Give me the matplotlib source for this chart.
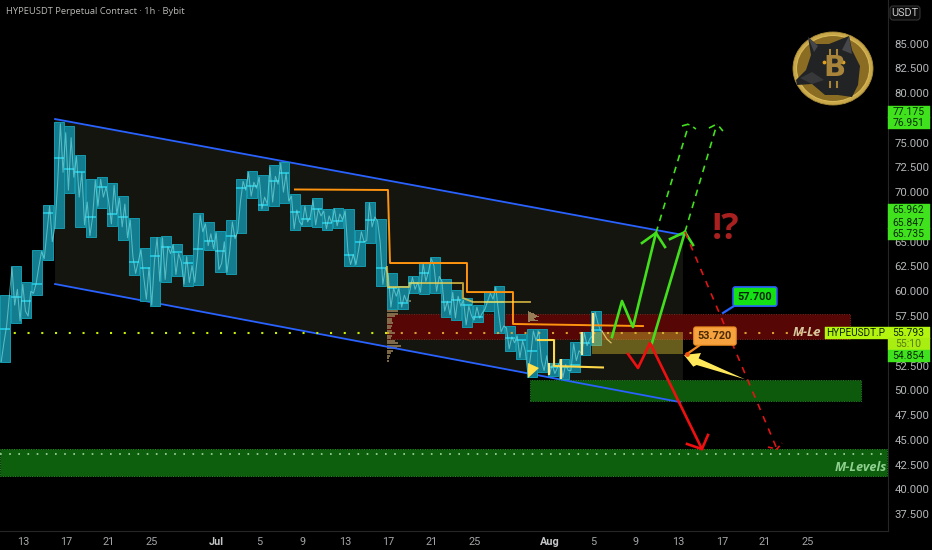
import matplotlib
matplotlib.use("Agg")
import matplotlib.pyplot as plt
from matplotlib.patches import Rectangle, Polygon, Ellipse, FancyBboxPatch
from matplotlib.transforms import blended_transform_factory
import numpy as np

plt.rcParams['font.family'] = ['Roboto', 'DejaVu Sans']

TITLE = "HYPEUSDT Perpetual Contract · 1h · Bybit"

# daily range blocks (June 12 onward)
block_high = [59.62,62.52,60.90,64.13,68.70,77.05,76.68,73.78,71.36,71.50,70.89,69.58,67.36,64.33,65.51,65.58,64.80,63.63,67.86,66.99,66.08,67.19,71.29,72.14,71.70,72.71,73.04,69.78,68.74,69.38,68.27,68.44,68.27,66.18,69.04,67.26,
              61.81,60.53,61.54,62.98,63.49,61.20,60.13,59.28,58.58,59.96,60.53,56.49,55.69,56.22,56.22,52.73,53.13,54.88,55.92,58.04]
block_low = [52.83,56.80,57.27,59.62,63.12,66.35,69.92,66.52,65.51,68.40,66.59,65.21,61.64,59.05,58.48,60.97,61.54,60.56,60.67,64.13,61.94,61.71,65.88,69.38,68.17,68.64,68.91,66.15,66.55,66.52,66.15,66.42,62.52,62.52,64.90,60.50,
             58.17,58.17,59.79,59.72,59.86,57.37,57.10,56.43,56.90,58.04,55.75,54.00,53.13,51.38,51.85,51.45,51.11,51.88,53.57,54.61]
block_mark = [56.23,59.45,59.02,60.70,67.86,73.41,72.37,72.07,67.46,70.55,67.83,67.46,62.92,62.38,63.56,64.43,63.96,62.89,64.30,65.11,64.06,65.58,70.45,70.62,68.70,71.16,71.97,68.03,67.26,68.27,66.92,67.12,63.63,65.00,67.19,62.38,
              60.29,58.78,60.80,61.87,62.82,58.95,59.12,58.61,57.43,58.95,58.95,55.25,55.08,54.00,55.08,52.39,52.39,52.56,54.74,56.09]
first_block_day = -20.15

# hourly line, four readings per block
hourly_line = [52.9,54.8,56.5,59.5, 62.4,58.6,60.2,57.0, 60.7,58.0,57.5,60.0, 59.8,60.8,62.5,64.0,
 63.3,66.0,68.6,65.0, 66.5,71.0,76.9,72.0, 76.0,70.2,75.5,71.5, 73.6,69.5,72.0,66.7,
 69.0,65.6,67.5,71.2, 68.6,71.3,69.5,70.5, 69.0,66.8,70.7,67.8, 69.4,66.5,68.8,65.4,
 67.2,63.5,61.8,63.0, 64.2,61.5,59.2,62.4, 58.6,63.0,65.4,61.0, 65.4,61.2,64.5,63.8,
 64.7,61.7,63.8,63.0, 60.7,63.5,60.9,62.6, 60.9,63.5,67.7,66.0, 66.8,64.6,65.8,64.3,
 65.9,62.2,62.8,65.0, 61.9,64.0,67.0,65.3, 66.0,69.0,71.1,70.2, 72.0,69.6,71.0,70.4,
 71.5,68.3,69.5,68.8, 72.5,69.0,71.6,70.8, 72.9,70.0,71.9,69.1, 69.6,66.3,68.2,67.0,
 66.7,68.6,67.0,67.5, 69.2,66.7,68.3,67.6, 68.1,66.3,67.6,66.9, 68.3,66.6,67.8,67.2,
 68.1,64.0,62.7,63.7, 62.7,64.2,66.0,65.0, 65.1,68.9,66.5,67.5, 67.1,65.0,60.7,62.4,
 61.6,58.4,60.3,59.5, 60.3,58.4,59.6,58.9, 60.0,61.4,60.2,60.9, 59.9,62.8,61.0,62.0,
 63.3,62.6,60.0,61.5, 61.0,58.0,59.0,57.6, 59.9,57.3,59.5,58.5, 59.1,56.6,58.5,57.5,
 57.1,58.4,57.3,57.8, 58.2,59.0,59.8,59.2, 60.4,58.0,55.9,56.5, 56.3,54.2,55.4,54.8,
 55.5,53.3,55.0,54.0, 51.6,53.5,56.0,55.0, 56.0,53.0,52.0,53.5, 51.6,52.6,51.7,52.3,
 53.0,51.3,52.6,52.0, 52.0,54.7,53.0,54.0, 53.7,55.8,54.5,55.2, 55.5,57.9,56.8,56.0]
tail_days = [35.85,36.3,36.7]
tail_prices = [56.0,55.2,54.8]

# channel
channel_top_d = [-15.02,43.39]; channel_top_p = [77.38,65.68]
channel_low_d = [-15.02,43.12]; channel_low_p = [60.73,48.82]
channel_fill_d = [-15.02,43.39,43.39,-15.02]; channel_fill_p = [77.38,65.68,48.70,60.73]

# zones: day start, day end, price low, price high
red_zone = (15.86,58.93,55.18,57.70)
green_zone = (29.16,59.95,48.92,51.04)
low_zone = (-20.14,62.42,41.36,44.08)
yellow_zone = (34.93,43.39,53.67,55.89)
current_price = 55.793
low_level = 43.58

orange_d = [7.30,15.95,16.14,23.30,23.30,27.58,27.58,39.67]
orange_p = [70.27,70.22,62.85,62.85,59.92,59.92,56.70,56.49]
yellow1_d = [15.86,15.95,17.91,18.00,22.93,22.93,23.86,29.16]
yellow1_p = [62.45,60.43,60.43,60.83,60.83,59.32,58.92,58.92]
yellow2_d = [29.91,31.40,31.40,35.95]
yellow2_p = [55.08,55.08,52.46,52.31]
# pale marker bars on the left of recent blocks
mark_d = [30.93,32.05,34.00,35.02]
mark_low = [51.55,51.15,53.57,54.78]
mark_high = [52.76,53.16,55.89,57.80]

green1_d = [36.79,37.72,38.74,40.88]; green1_p = [55.38,59.02,56.39,65.88]
green1h_d = [39.58,40.88,41.72]; green1h_p = [64.87,65.88,64.47]
green2_d = [40.51,43.58]; green2_p = [54.78,65.98]
green2h_d = [42.19,43.58,44.33]; green2h_p = [65.27,65.98,64.67]
dash1_d = [40.88,43.95]; dash1_p = [65.88,76.88]
dash1h_d = [43.30,43.95,44.60]; dash1h_p = [76.68,76.88,76.37]
dash2_d = [43.58,46.56]; dash2_p = [65.98,76.88]
dash2h_d = [45.81,46.56,47.11]; dash2h_p = [76.47,76.88,76.17]
red_d = [38.28,39.21,40.33,45.16]; red_p = [53.67,52.26,54.78,44.08]
redh_d = [43.77,45.16,45.72]; redh_p = [44.59,44.08,45.50]
reddash_d = [43.58,52.14]; reddash_p = [65.98,44.08]
reddashh_d = [51.30,52.14,52.60]; reddashh_p = [44.28,44.08,44.69]
yarrow_d = [43.49,45.07,44.85,49.16,44.67,44.35]
yarrow_p = [53.57,53.77,53.23,51.12,52.56,52.39]
ytri_d = [28.98,30.00,28.98]; ytri_p = [52.76,52.26,51.25]

vp_prices = [61.0,60.75,60.5,60.25,60.0,59.75,59.5,59.25,59.0,58.75,58.5,58.25,58.0,57.75,57.5,57.25,57.0,56.75,56.5,56.25,56.0,55.75,55.5,55.25,55.0,54.75,54.5,54.25,54.0,53.75,53.5,53.25,53.0]
vp_sizes = [.1,.3,.8,1.0,.9,1.2,1.5,2.0,2.2,1.6,2.0,1.4,1.0,1.0,.7,.5,.5,.6,.5,.4,.5,.7,.5,.4,.7,1.0,1.3,.9,.6,.4,.3,.2,.2]
vp2_prices = [58.0,57.9,57.8,57.7,57.6,57.5,57.4,57.3,57.2,57.1,57.0,56.9]
vp2_sizes = [.1,.3,.5,.6,.8,1.0,.7,.5,.6,.9,.4,.2]

y_ticks = [37.5,40,42.5,45,47.5,50,52.5,57.5,60,62.5,65,67.5,70,72.5,75,80,82.5,85]
x_tick_days = [-18,-14,-10,-6,0,4,8,12,16,20,24,31,35,39,43,47,51,55]
x_tick_labels = ["13","17","21","25","Jul","5","9","13","17","21","25","Aug","5","9","13","17","21","25"]

# price tags: label, display position, colour
GREEN = "#3fe21c"; LIME = "#b4f50f"
tags = [("77.175",78.09,GREEN),("76.951",76.98,GREEN),("65.962",68.15,GREEN),("65.847",66.92,GREEN),("65.735",65.78,GREEN),
        ("55.793",55.79,LIME),("55:10",54.68,"#a8ee10"),("54.854",53.47,GREEN)]

W, H = 932, 550
fig = plt.figure(figsize=(W/100, H/100), dpi=100, facecolor="#000000")
ax = fig.add_axes([0, 19/550, 887.5/932, 531/550], facecolor="#000000")
ax.set_xlim(-20.14, 62.42)
ax.set_ylim(35.81, 89.39)
for s in ["top","left"]:
    ax.spines[s].set_visible(False)
for s in ["right","bottom"]:
    ax.spines[s].set_color("#262626"); ax.spines[s].set_linewidth(0.8)
ax.yaxis.tick_right()
ax.set_yticks(y_ticks)
ax.set_yticklabels([f"{v:.3f}" for v in y_ticks])
ax.set_xticks(x_tick_days)
ax.set_xticklabels(x_tick_labels)
ax.tick_params(axis="y", length=0, pad=5, labelsize=8.2, labelcolor="#b4b6b8")
ax.tick_params(axis="x", length=0, pad=4.5, labelsize=7.8, labelcolor="#a4a6a8")
for t, lab in zip(ax.get_xticklabels(), x_tick_labels):
    if lab in ("Jul","Aug"):
        t.set_fontweight("bold"); t.set_color("#c4c6c8")

ax.fill(channel_fill_d, channel_fill_p, color="#15150f", lw=0, zorder=1)

def zone(z, fc, ec, zo=2, alpha=1.0):
    ax.add_patch(Rectangle((z[0], z[2]), z[1]-z[0], z[3]-z[2], fc=fc, ec=ec, lw=0.7, ls=(0,(1,1.5)), zorder=zo, alpha=alpha))
zone(red_zone, "#560604", "#7a2a20")
zone(green_zone, "#0d5a0c", "#2a7a2a")
zone(low_zone, "#0d5e0d", "#2a8a2a")

ax.barh(vp_prices, vp_sizes, height=0.2, left=15.86, color="#8f7a55", alpha=0.85, lw=0, zorder=3)
ax.barh(vp2_prices, vp2_sizes, height=0.1, left=29.0, color="#a08a60", alpha=0.9, lw=0, zorder=3)

ax.plot(channel_top_d, channel_top_p, color="#2962ff", lw=1.3, zorder=3)
ax.plot(channel_low_d, channel_low_p, color="#2962ff", lw=1.3, zorder=3)

n = len(block_high)
lefts = first_block_day + np.arange(n)
ax.bar(lefts, np.array(block_high)-np.array(block_low), bottom=block_low, width=0.94, align="edge",
       color="#137c8f", edgecolor="#159aae", lw=0.7, zorder=4)
ax.hlines(block_mark, lefts, lefts+0.94, color="#22c6dc", lw=1.3, zorder=5)

line_days = first_block_day + (np.arange(len(hourly_line))+0.5)/4
ax.plot(line_days, hourly_line, color="#7adfe2", lw=0.75, alpha=0.65, zorder=6)
ax.plot(tail_days, tail_prices, color="#d8c48a", lw=0.9, zorder=6)

zone(yellow_zone, "#d8c030", "none", zo=7, alpha=0.42)

dot = (0,(1,5.6))
ax.plot([-20.14, 15.86], [current_price]*2, color="#c8f000", lw=1.5, ls=dot, zorder=3)
ax.plot([15.86, 56.2], [current_price]*2, color="#d8a030", lw=1.5, ls=dot, zorder=5)
ax.plot([-20.14, 62.42], [low_level]*2, color="#a8d8a8", lw=1.2, ls=(0,(1,4.5)), zorder=3)

ax.plot(orange_d, orange_p, color="#ff9410", lw=1.4, zorder=7)
ax.plot(yellow1_d, yellow1_p, color="#ffd84a", lw=1.4, zorder=7, alpha=0.7)
ax.plot(yellow2_d, yellow2_p, color="#ffd84a", lw=1.5, zorder=7)
ax.vlines(mark_d, mark_low, mark_high, color="#ffe88a", lw=1.6, zorder=7)
ax.fill(ytri_d, ytri_p, color="#ffe04a", lw=0, zorder=8)

g = "#42e01c"
for d, p in [(green1_d,green1_p),(green1h_d,green1h_p),(green2_d,green2_p),(green2h_d,green2h_p)]:
    ax.plot(d, p, color=g, lw=1.9, zorder=9)
for d, p in [(dash1_d,dash1_p),(dash2_d,dash2_p),(dash1h_d,dash1h_p),(dash2h_d,dash2h_p)]:
    ax.plot(d, p, color=g, lw=1.2, ls=(0,(4,3.5)), zorder=9)
ax.plot(red_d, red_p, color="#ee1010", lw=1.9, zorder=9)
ax.plot(redh_d, redh_p, color="#ee1010", lw=1.9, zorder=9)
ax.plot(reddash_d, reddash_p, color="#e01515", lw=1.2, ls=(0,(4,4)), zorder=9)
ax.plot(reddashh_d, reddashh_p, color="#e01515", lw=1.2, ls=(0,(3,2)), zorder=9)
ax.fill(yarrow_d, yarrow_p, color="#ffe85a", lw=0, zorder=10)

ax.text(47.39, 66.18, "!?", color="#a8201f", fontsize=26, fontweight="bold", ha="center", va="center", zorder=10, family="Open Sans")

ax.plot([47.12,48.7],[57.81,58.9], color="#2962ff", lw=1.6, zorder=10)
ax.text(50.09, 59.47, "57.700", color="#06260a", fontsize=7.8, fontweight="bold", ha="center", va="center", zorder=11,
        bbox=dict(boxstyle="round,pad=0.42,rounding_size=0.2", fc="#14e214", ec="#2962ff", lw=1.2))
ax.plot([43.77,45.4],[53.67,54.9], color="#f08a20", lw=1.6, zorder=10)
ax.text(46.37, 55.48, "53.720", color="#4a2a00", fontsize=7.8, fontweight="bold", ha="center", va="center", zorder=11,
        bbox=dict(boxstyle="round,pad=0.38,rounding_size=0.2", fc="#f6a23e", ec="#e88a20", lw=0.8))
ax.scatter([43.77],[53.67], s=6, color="#f05010", zorder=12)

ax.text(53.63, current_price, "M-Le", color="#d8c8a0", fontsize=9, fontstyle="italic", fontweight="bold", va="center", zorder=6, family="Open Sans")
ax.text(62.4, 42.2, "M-Levels", color="#8fd090", fontsize=9.2, fontstyle="italic", fontweight="bold", ha="right", va="center", zorder=6, family="Open Sans")

# right-hand price tags
trans = blended_transform_factory(ax.transAxes, ax.transData)
for lab, pos, col in tags:
    ax.add_patch(Rectangle((1.0, pos-0.62), 0.0475, 1.24, transform=trans, fc=col, ec=col, lw=0.3, clip_on=False, zorder=20))
    tc = "#5a7a10" if ":" in lab else "#0c2a08"
    ax.text(1.0237, pos, lab, transform=trans, color=tc, fontsize=7.5, ha="center", va="center", clip_on=False, zorder=21)
ax.add_patch(Rectangle((0.9297, current_price-0.62), 0.0703, 1.24, transform=trans, fc=LIME, ec=LIME, lw=0.3, zorder=20, clip_on=False))
ax.text(0.9645, current_price, "HYPEUSDT.P", transform=trans, color="#10240a", fontsize=7.2, ha="center", va="center", zorder=21)

fig.text(6/W, 1-11.5/H, TITLE, color="#b8b8b4", fontsize=6.75, ha="left", va="center", family="Open Sans")

# USDT button and coin emblem, in pixel space
ov = fig.add_axes([0,0,1,1], facecolor="none")
ov.set_xlim(0,W); ov.set_ylim(H,0); ov.axis("off")
ov.add_patch(FancyBboxPatch((891,7),28,12,boxstyle="round,pad=1,rounding_size=3",fc="#0c0c0c",ec="#343434",lw=0.8))
ov.text(905,13.2,"USDT",color="#c8c8c8",fontsize=7.8,ha="center",va="center")
ov.add_patch(Ellipse((833,68.5),80,73,fc="#c8a848",ec="#a88a38",lw=0.6))
ov.add_patch(Ellipse((833,68.5),73,66,fc="#8a6c22",ec="#d8b858",lw=0.8))
wolf = [(808,37),(816,44),(829,44),(849,36),(852,50),(860,66),(858,85),(852,97),(838,95),(825,95),(812,84),(797,85),(796,80),(806,70),(811,55)]
ov.add_patch(Polygon(wolf,closed=True,fc="#212325",ec="none"))
ov.add_patch(Polygon([(808,37),(814,52),(818,46)],closed=True,fc="#45474a",ec="none"))
ov.add_patch(Polygon([(849,36),(842,50),(852,54)],closed=True,fc="#45474a",ec="none"))
ov.add_patch(Polygon([(800,78),(812,72),(824,80),(812,84)],closed=True,fc="#36383a",ec="none"))
ov.text(834,68.5,"B",color="#a8843a",fontsize=21,fontweight="bold",ha="center",va="center",family="DejaVu Sans")
ov.plot([830,830],[50,55],color="#a8843a",lw=1.5); ov.plot([837,837],[50,55],color="#a8843a",lw=1.5)
ov.plot([830,830],[82,87],color="#a8843a",lw=1.5); ov.plot([837,837],[82,87],color="#a8843a",lw=1.5)
ov.scatter([824,843],[62,62],s=3,color="#e0a020")

fig.savefig("out.png", dpi=100, facecolor=fig.get_facecolor())
